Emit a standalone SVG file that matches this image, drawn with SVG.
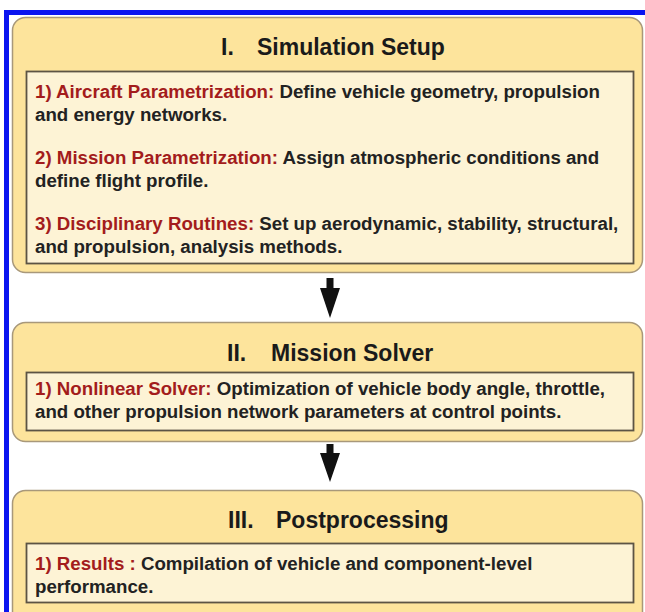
<svg xmlns="http://www.w3.org/2000/svg" width="645" height="612" viewBox="0 0 645 612">
<style>
.outer{fill:#fde49c;stroke:#a8987a;stroke-width:1.5}
.inner{fill:#fdf3d5;stroke:#5c5444;stroke-width:1.8}
.title{font-family:"Liberation Sans",Arial,sans-serif;font-weight:bold;font-size:23px;fill:#1a1a1a}
.body{font-family:"Liberation Sans",Arial,sans-serif;font-weight:bold;font-size:18.7px;fill:#222}
.red{fill:#a31c1c}
.arrow{fill:#111}
</style>
<rect x="0" y="0" width="645" height="612" fill="#ffffff"/>
<g id="frame">
<rect x="4" y="10" width="641" height="5" fill="#0a14f0"/>
<rect x="4" y="10" width="5" height="602" fill="#0a14f0"/>
</g>
<g id="simulation-setup">
<rect class="outer" x="12.5" y="17.5" width="630" height="255" rx="13"/>
<text class="title" y="55"><tspan x="221">I.</tspan><tspan x="257">Simulation Setup</tspan></text>
<rect class="inner" x="26.5" y="71.5" width="607" height="192"/>
<text class="body" x="35" y="98"><tspan class="red">1) Aircraft Parametrization:</tspan> Define vehicle geometry, propulsion</text>
<text class="body" x="35" y="121">and energy networks.</text>
<text class="body" x="35" y="164"><tspan class="red">2) Mission Parametrization:</tspan> Assign atmospheric conditions and</text>
<text class="body" x="35" y="187">define flight profile.</text>
<text class="body" x="35" y="230"><tspan class="red">3) Disciplinary Routines:</tspan> Set up aerodynamic, stability, structural,</text>
<text class="body" x="35" y="253">and propulsion, analysis methods.</text>
</g>
<g id="connectors">
<path class="arrow" d="M326.5 278 H333.5 V288 H340 L330 318 L320 288 H326.5 Z"/>
<path class="arrow" d="M326.5 444 H333.5 V453 H340 L330 482 L320 453 H326.5 Z"/>
</g>
<g id="mission-solver">
<rect class="outer" x="12.5" y="322.5" width="630" height="119" rx="13"/>
<text class="title" y="361"><tspan x="227">II.</tspan><tspan x="271">Mission Solver</tspan></text>
<rect class="inner" x="26.5" y="372.5" width="607" height="58"/>
<text class="body" x="35" y="395"><tspan class="red">1) Nonlinear Solver:</tspan> Optimization of vehicle body angle, throttle,</text>
<text class="body" x="35" y="418">and other propulsion network parameters at control points.</text>
</g>
<g id="postprocessing">
<rect class="outer" x="12.5" y="490.5" width="630" height="135" rx="13"/>
<text class="title" y="528"><tspan x="228">III.</tspan><tspan x="276">Postprocessing</tspan></text>
<rect class="inner" x="26.5" y="543.5" width="607" height="59"/>
<text class="body" x="35" y="570"><tspan class="red">1) Results :</tspan> Compilation of vehicle and component-level</text>
<text class="body" x="35" y="593">performance.</text>
</g>
</svg>
